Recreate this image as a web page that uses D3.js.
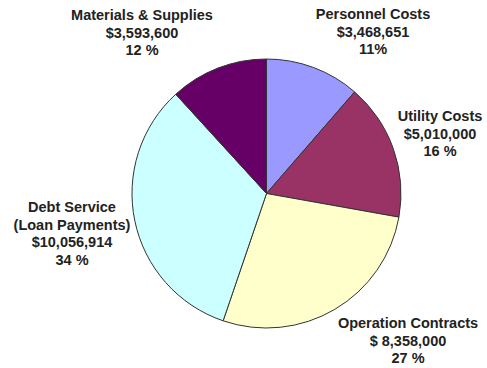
<!DOCTYPE html>
<html>
<head>
<meta charset="utf-8">
<script src="https://cdn.jsdelivr.net/npm/d3@7"></script>
<style>
  body { margin: 0; background: #fff; }
  text { font-family: "Liberation Sans", Arial, sans-serif; font-weight: bold; fill: #222; }
</style>
</head>
<body>
<div id="chart"></div>
<script>
let categories = ["Personnel Costs", "Utility Costs", "Operation Contracts", "Debt Service", "Materials & Supplies"];
let amounts = [3468651, 5010000, 8358000, 10056914, 3593600];
let amountLabels = ["$3,468,651", "$5,010,000", "$ 8,358,000", "$10,056,914", "$3,593,600"];
let percentLabels = ["11%", "16 %", "27 %", "34 %", "12 %"];
let nameLines = [["Personnel Costs"], ["Utility Costs"], ["Operation Contracts"], ["Debt Service", "(Loan Payments)"], ["Materials & Supplies"]];
let colors = ["#9999ff", "#993366", "#ffffcc", "#ccffff", "#660066"];

let svgW = 487;
let svgH = 368;
let cx = 266.5, cy = 193.5, radius = 134.5;

// label block positions (center x, first baseline)
let labelPos = [
  { x: 373, y: 19 },
  { x: 440, y: 121 },
  { x: 408, y: 328 },
  { x: 72, y: 212 },
  { x: 142, y: 20 }
];
let lineH = 17.6;

let data = categories.map((c, i) => ({ name: c, value: amounts[i], i: i }));

let svg = d3.select("#chart")
  .append("svg")
  .attr("width", svgW)
  .attr("height", svgH);

let pie = d3.pie()
  .value(d => d.value)
  .sort(null);

let arc = d3.arc()
  .innerRadius(0)
  .outerRadius(radius);

let group = svg.append("g")
  .attr("transform", `translate(${cx},${cy})`);

group.selectAll("path")
  .data(pie(data))
  .enter()
  .append("path")
  .attr("d", arc)
  .attr("fill", d => colors[d.data.i])
  .attr("stroke", "#333")
  .attr("stroke-width", 1);

let labels = svg.selectAll("g.label")
  .data(data)
  .enter()
  .append("g")
  .attr("class", "label");

labels.each(function (d) {
  let lines = nameLines[d.i].concat([amountLabels[d.i], percentLabels[d.i]]);
  let p = labelPos[d.i];
  d3.select(this).selectAll("text")
    .data(lines)
    .enter()
    .append("text")
    .attr("x", p.x)
    .attr("y", (t, k) => p.y + k * lineH)
    .attr("text-anchor", "middle")
    .attr("font-size", "14.5px")
    .text(t => t);
});
</script>
</body>
</html>
